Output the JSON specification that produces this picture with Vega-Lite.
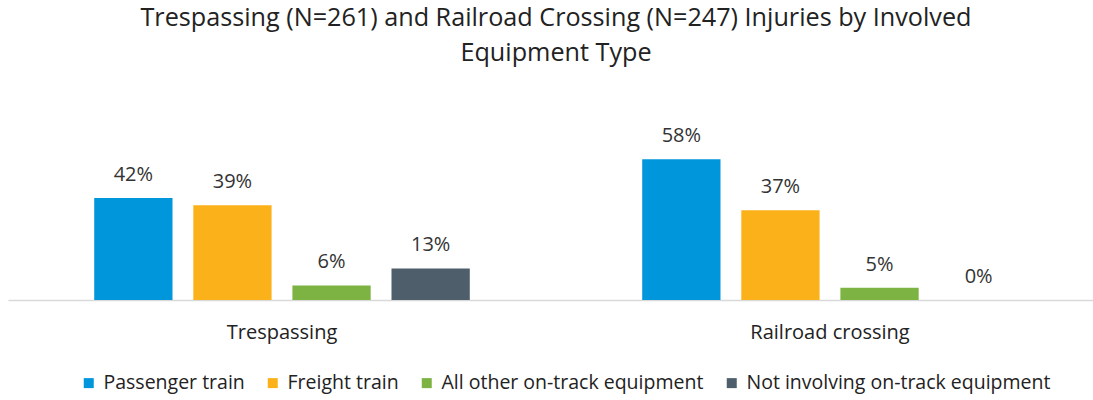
{
  "$schema": "https://vega.github.io/schema/vega-lite/v6.json",
  "width": 1096,
  "height": 170,
  "autosize": "none",
  "padding": {"left": 8, "top": 130, "right": 0, "bottom": 100},
  "background": "white",
  "config": {"view": {"stroke": null}},
  "title": {
    "text": ["Trespassing (N=261) and Railroad Crossing (N=247) Injuries by Involved", "Equipment Type"],
    "font": "Open Sans",
    "fontSize": 25.2,
    "fontWeight": "normal",
    "color": "#222222",
    "lineHeight": 35,
    "anchor": "middle",
    "offset": 60
  },
  "data": {
    "values": [
      {"category": "Trespassing", "type": "Passenger train", "pct": 0.42},
      {"category": "Trespassing", "type": "Freight train", "pct": 0.39},
      {"category": "Trespassing", "type": "All other on-track equipment", "pct": 0.06},
      {"category": "Trespassing", "type": "Not involving on-track equipment", "pct": 0.13},
      {"category": "Railroad crossing", "type": "Passenger train", "pct": 0.58},
      {"category": "Railroad crossing", "type": "Freight train", "pct": 0.37},
      {"category": "Railroad crossing", "type": "All other on-track equipment", "pct": 0.05},
      {"category": "Railroad crossing", "type": "Not involving on-track equipment", "pct": 0}
    ]
  },
  "encoding": {
    "x": {
      "field": "category",
      "type": "nominal",
      "sort": ["Trespassing", "Railroad crossing"],
      "scale": {"paddingInner": 0, "paddingOuter": 0},
      "axis": {
        "title": null,
        "labelAngle": 0,
        "labelFont": "Open Sans",
        "labelFontSize": 20,
        "labelColor": "#222222",
        "labelPadding": 22,
        "ticks": false,
        "domainColor": "#d9d9d9",
        "domainWidth": 1.5
      }
    },
    "xOffset": {
      "field": "type",
      "type": "nominal",
      "sort": ["Passenger train", "Freight train", "All other on-track equipment", "Not involving on-track equipment"],
      "scale": {"paddingInner": 0.21, "paddingOuter": 0.87}
    },
    "y": {
      "field": "pct",
      "type": "quantitative",
      "scale": {"domain": [0, 0.7]},
      "axis": null
    }
  },
  "layer": [
    {
      "mark": {"type": "bar"},
      "encoding": {
        "color": {
          "field": "type",
          "type": "nominal",
          "scale": {
            "domain": ["Passenger train", "Freight train", "All other on-track equipment", "Not involving on-track equipment"],
            "range": ["#0096DB", "#FBB11A", "#7CB342", "#4E5F6B"]
          },
          "legend": {
            "title": null,
            "orient": "none",
            "legendX": 71,
            "legendY": 243,
            "direction": "horizontal",
            "symbolType": "square",
            "symbolSize": 100,
            "symbolStrokeWidth": 0,
            "labelFont": "Open Sans",
            "labelFontSize": 19.5,
            "labelColor": "#222222",
            "labelLimit": 0,
            "columnPadding": 18,
            "labelOffset": 5
          }
        }
      }
    },
    {
      "mark": {"type": "text", "baseline": "alphabetic", "dy": -17, "font": "Open Sans", "fontSize": 20, "color": "#333333"},
      "encoding": {
        "text": {"field": "pct", "type": "quantitative", "format": ".0%"},
        "detail": {"field": "type"}
      }
    }
  ]
}
